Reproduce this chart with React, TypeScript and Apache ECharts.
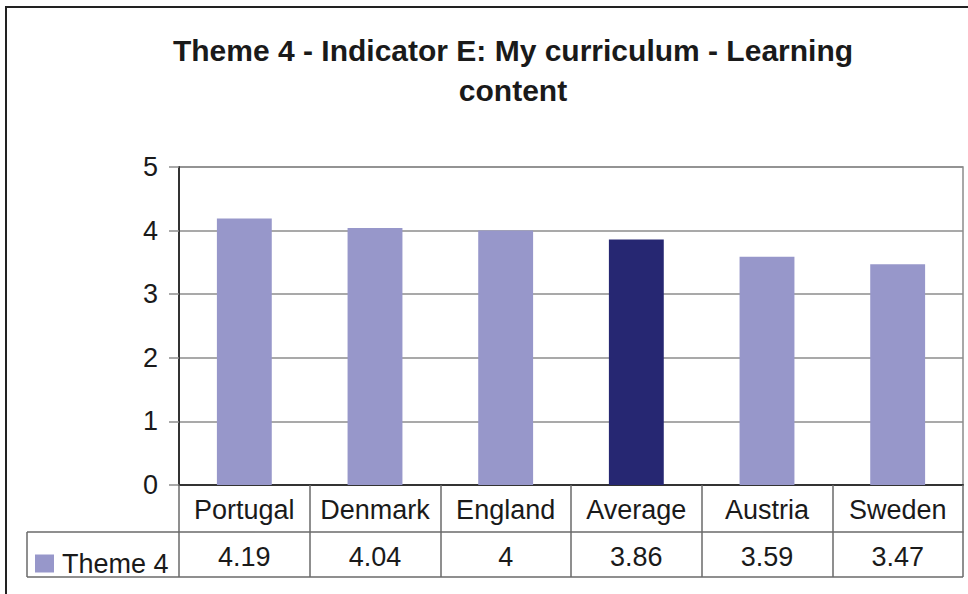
import React, { useEffect, useRef } from "react";
import * as echarts from "echarts";

const categories = ["Portugal", "Denmark", "England", "Average", "Austria", "Sweden"];
const values = [4.19, 4.04, 4, 3.86, 3.59, 3.47];
const valueLabels = ["4.19", "4.04", "4", "3.86", "3.59", "3.47"];
const highlighted = "Average";
const seriesName = "Theme 4";
const titleText = "Theme 4 - Indicator E: My curriculum - Learning\ncontent";

const LIGHT = "#9797CA";
const DARK = "#262772";
const FONT = "'Liberation Sans', Arial, sans-serif";

export default function App() {
  const ref = useRef<HTMLDivElement>(null);
  useEffect(() => {
    if (!ref.current) return;
    const chart = echarts.init(ref.current, undefined, { renderer: "svg" });
    const tableLine = { stroke: "#6a6a6a", lineWidth: 1.5 };
    chart.setOption({
      animation: false,
      backgroundColor: "#ffffff",
      textStyle: { fontFamily: FONT },
      title: {
        text: titleText,
        left: 508,
        textAlign: "center",
        top: 25,
        textStyle: { fontSize: 30, fontWeight: "bold", color: "#1a1a1a", lineHeight: 40, fontFamily: FONT },
      },
      legend: {
        data: [seriesName],
        left: 35,
        top: 550,
        padding: 0,
        itemWidth: 19,
        itemHeight: 18,
        selectedMode: false,
        icon: "rect",
        textStyle: { fontSize: 27, color: "#1a1a1a", fontFamily: FONT, padding: [0, 0, 0, 3] },
      },
      grid: {
        left: 179,
        right: 5,
        top: 167,
        bottom: 109,
        show: true,
        borderColor: "#8c8c8c",
        borderWidth: 1.5,
        containLabel: false,
      },
      xAxis: [
        {
          type: "category",
          data: categories,
          position: "bottom",
          axisLine: { show: true, lineStyle: { color: "#333", width: 2 } },
          axisTick: { show: true, interval: 0, length: 92, lineStyle: { color: "#6a6a6a", width: 1.5 } },
          axisLabel: { fontSize: 27, color: "#1a1a1a", margin: 11, interval: 0, fontFamily: FONT },
        },
        {
          type: "category",
          data: categories,
          position: "bottom",
          offset: 47,
          axisLine: { show: true, lineStyle: { color: "#6a6a6a", width: 1.5 } },
          axisTick: { show: false },
          axisLabel: {
            fontSize: 27,
            color: "#1a1a1a",
            margin: 11,
            interval: 0,
            fontFamily: FONT,
            formatter: (_v: string, i: number) => valueLabels[i],
          },
        },
      ],
      yAxis: {
        type: "value",
        min: 0,
        max: 5,
        interval: 1,
        axisLine: { show: true, lineStyle: { color: "#333", width: 2 } },
        axisTick: { show: true, length: 10, lineStyle: { color: "#8c8c8c", width: 1.5 } },
        axisLabel: { fontSize: 27, color: "#1a1a1a", margin: 21, fontFamily: FONT },
        splitLine: { show: true, lineStyle: { color: "#8c8c8c", width: 1.5 } },
      },
      series: [
        {
          name: seriesName,
          type: "bar",
          xAxisIndex: 0,
          barWidth: "42%",
          itemStyle: { color: LIGHT },
          data: values.map((v, i) =>
            categories[i] === highlighted ? { value: v, itemStyle: { color: DARK } } : v
          ),
        },
      ],
      graphic: [
        { type: "rect", shape: { x: 6, y: 7, width: 1200, height: 1200 }, style: { fill: "none", stroke: "#222", lineWidth: 2 }, silent: true },
        { type: "line", shape: { x1: 27, y1: 532, x2: 179, y2: 532 }, style: tableLine, silent: true },
        { type: "line", shape: { x1: 27, y1: 577, x2: 963, y2: 577 }, style: tableLine, silent: true },
        { type: "line", shape: { x1: 27, y1: 532, x2: 27, y2: 577 }, style: tableLine, silent: true },
      ],
    });
    return () => chart.dispose();
  }, []);
  return (
    <div
      ref={ref}
      style={{ position: "fixed", left: 0, top: 0, width: 968, height: 594, background: "#fff" }}
    />
  );
}
